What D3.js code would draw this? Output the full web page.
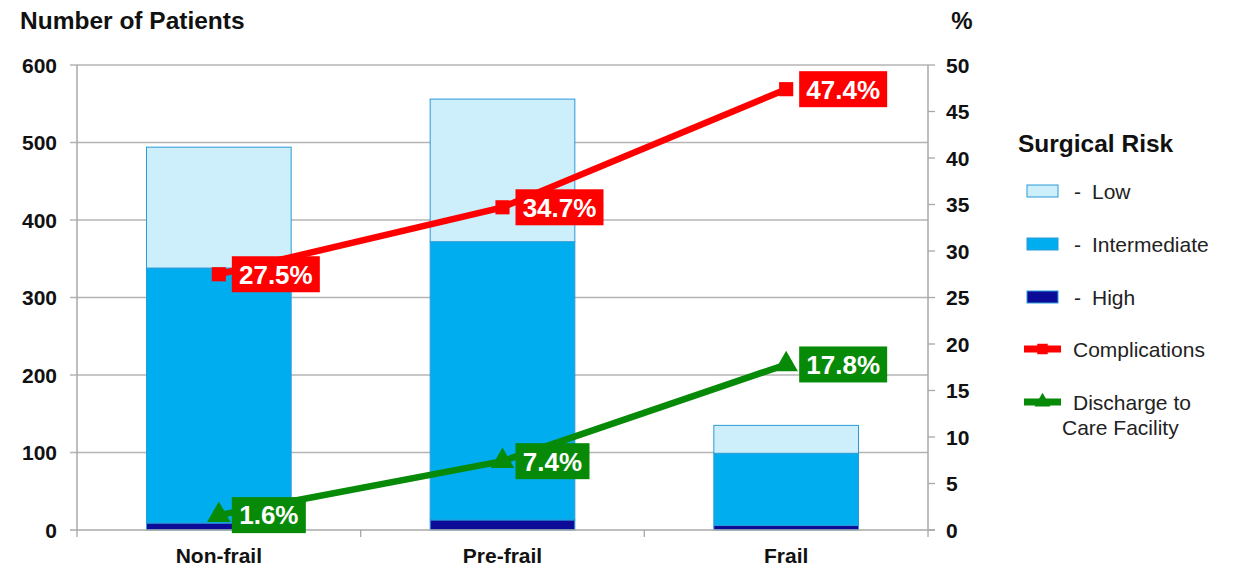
<!DOCTYPE html>
<html>
<head>
<meta charset="utf-8">
<script src="https://cdn.jsdelivr.net/npm/d3@7"></script>
<style>
  body { margin: 0; background: #fff; }
  text { font-family: "Liberation Sans", Arial, sans-serif; }
</style>
</head>
<body>
<div id="chart"></div>
<script>
// data
const categories = ['Non-frail', 'Pre-frail', 'Frail'];
const highRisk = [9, 13, 6];
const intermediateRisk = [329, 359, 93];
const lowRisk = [156, 184, 36];
const complications = [27.5, 34.7, 47.4];
const discharge = [1.6, 7.4, 17.8];
const leftTicks = [0, 100, 200, 300, 400, 500, 600];
const rightTicks = [0, 5, 10, 15, 20, 25, 30, 35, 40, 45, 50];

const W = 1243, H = 569;
const margin = {top: 65, right: 315, bottom: 39, left: 77};
const width = W - margin.left - margin.right;
const height = H - margin.top - margin.bottom;

const svg = d3.select('#chart').append('svg')
  .attr('width', W)
  .attr('height', H);

const g = svg.append('g')
  .attr('transform', 'translate(' + margin.left + ',' + margin.top + ')');

const x = d3.scaleBand().domain(categories).range([0, width]).paddingInner(0.49).paddingOuter(0.245);
const xc = d3.scalePoint().domain(categories).range([0, width]).padding(0.5);
const y = d3.scaleLinear().domain([0, 600]).range([height, 0]);
const y2 = d3.scaleLinear().domain([0, 50]).range([height, 0]);

// gridlines
g.append('g').selectAll('line')
  .data(leftTicks.slice(1))
  .enter().append('line')
  .attr('x1', -7).attr('x2', width)
  .attr('y1', d => y(d)).attr('y2', d => y(d))
  .attr('stroke', '#b4b4b4').attr('stroke-width', 1.3);

// stacked bars
const rows = categories.map((c, i) => ({cat: c, high: highRisk[i], inter: intermediateRisk[i], low: lowRisk[i]}));
const stack = d3.stack().keys(['high', 'inter', 'low'])(rows);
const fills = {high: '#0c0c98', inter: '#00aeef', low: '#cdeffb'};

g.append('g').selectAll('g')
  .data(stack)
  .enter().append('g')
  .attr('fill', d => fills[d.key])
  .selectAll('rect')
  .data(d => d)
  .enter().append('rect')
  .attr('x', d => x(d.data.cat))
  .attr('width', x.bandwidth())
  .attr('y', d => y(d[1]))
  .attr('height', d => y(d[0]) - y(d[1]))
  .attr('stroke', '#2a9ad8')
  .attr('stroke-width', 1);

// axes
const axisColor = '#a8a8a8';
g.append('line').attr('x1', 0).attr('x2', 0).attr('y1', 0).attr('y2', height)
  .attr('stroke', axisColor).attr('stroke-width', 1.5);
g.append('line').attr('x1', width).attr('x2', width).attr('y1', 0).attr('y2', height)
  .attr('stroke', axisColor).attr('stroke-width', 1.5);
g.append('line').attr('x1', -7).attr('x2', width + 7).attr('y1', height).attr('y2', height)
  .attr('stroke', axisColor).attr('stroke-width', 1.5);

// right axis ticks
g.append('g').selectAll('line')
  .data(rightTicks)
  .enter().append('line')
  .attr('x1', width).attr('x2', width + 7)
  .attr('y1', d => y2(d)).attr('y2', d => y2(d))
  .attr('stroke', axisColor).attr('stroke-width', 1.3);

// category separators
g.append('g').selectAll('line')
  .data([0, 1, 2, 3])
  .enter().append('line')
  .attr('x1', i => i * width / 3).attr('x2', i => i * width / 3)
  .attr('y1', height).attr('y2', height + 7)
  .attr('stroke', axisColor).attr('stroke-width', 1.3);

// tick labels
g.append('g').selectAll('text')
  .data(leftTicks)
  .enter().append('text')
  .attr('x', -20).attr('y', d => y(d))
  .attr('dy', '0.36em')
  .attr('text-anchor', 'end')
  .attr('font-size', 21).attr('font-weight', 'bold').attr('fill', '#111')
  .text(d => d);

g.append('g').selectAll('text')
  .data(rightTicks)
  .enter().append('text')
  .attr('x', width + 18).attr('y', d => y2(d))
  .attr('dy', '0.36em')
  .attr('font-size', 21).attr('font-weight', 'bold').attr('fill', '#111')
  .text(d => d);

g.append('g').selectAll('text')
  .data(categories)
  .enter().append('text')
  .attr('x', d => xc(d)).attr('y', height + 33)
  .attr('text-anchor', 'middle')
  .attr('font-size', 21).attr('font-weight', 'bold').attr('fill', '#111')
  .text(d => d);

svg.append('text').attr('x', 20).attr('y', 29)
  .attr('font-size', 24.5).attr('font-weight', 'bold').attr('fill', '#111')
  .text('Number of Patients');
svg.append('text').attr('x', 962).attr('y', 29)
  .attr('text-anchor', 'middle')
  .attr('font-size', 24).attr('font-weight', 'bold').attr('fill', '#111')
  .text('%');

// lines
const red = '#ff0000', green = '#078a07';
const line = d3.line().x((d, i) => xc(categories[i])).y(d => y2(d));

function drawSeries (values, color, marker) {
  g.append('path')
    .attr('d', line(values))
    .attr('fill', 'none')
    .attr('stroke', color)
    .attr('stroke-width', 6.5);

  const sym = marker === 'square' ? d3.symbolSquare : d3.symbolTriangle;
  g.append('g').selectAll('path')
    .data(values)
    .enter().append('path')
    .attr('transform', (d, i) => 'translate(' + xc(categories[i]) + ',' + y2(d) + ')')
    .attr('d', d3.symbol().type(sym).size(marker === 'square' ? 200 : 240))
    .attr('fill', color);

  const labels = g.append('g').selectAll('g')
    .data(values)
    .enter().append('g')
    .attr('transform', (d, i) => 'translate(' + (xc(categories[i]) + 13) + ',' + y2(d) + ')');
  labels.append('rect')
    .attr('x', 0).attr('y', -18)
    .attr('width', d => d < 10 ? 74 : 88)
    .attr('height', 36)
    .attr('fill', color);
  labels.append('text')
    .attr('x', d => d < 10 ? 37 : 44).attr('y', 0)
    .attr('dy', '0.36em')
    .attr('text-anchor', 'middle')
    .attr('font-size', 26).attr('font-weight', 'bold').attr('fill', '#fff')
    .text(d => d.toFixed(1) + '%');
}

drawSeries(complications, red, 'square');
drawSeries(discharge, green, 'triangle');

// legend
const legend = svg.append('g');
legend.append('text').attr('x', 1018).attr('y', 152)
  .attr('font-size', 24.5).attr('font-weight', 'bold').attr('fill', '#111')
  .text('Surgical Risk');

const boxItems = [
  {label: 'Low', fill: fills.low, y: 191},
  {label: 'Intermediate', fill: fills.inter, y: 244},
  {label: 'High', fill: fills.high, y: 297}
];
boxItems.forEach(d => {
  legend.append('rect')
    .attr('x', 1027).attr('y', d.y - 6).attr('width', 31).attr('height', 12)
    .attr('fill', d.fill).attr('stroke', '#2a9ad8').attr('stroke-width', 1);
  legend.append('text').attr('x', 1074).attr('y', d.y)
    .attr('dy', '0.36em').attr('font-size', 21).attr('fill', '#222')
    .text('-');
  legend.append('text').attr('x', 1092).attr('y', d.y)
    .attr('dy', '0.36em').attr('font-size', 21).attr('fill', '#222')
    .text(d.label);
});

const lineItems = [
  {label: ['Complications'], color: red, type: d3.symbolSquare, y: 349},
  {label: ['Discharge to', 'Care Facility'], color: green, type: d3.symbolTriangle, y: 402}
];
lineItems.forEach(d => {
  legend.append('line')
    .attr('x1', 1024).attr('x2', 1061).attr('y1', d.y).attr('y2', d.y)
    .attr('stroke', d.color).attr('stroke-width', 7);
  legend.append('path')
    .attr('transform', 'translate(1042.5,' + d.y + ')')
    .attr('d', d3.symbol().type(d.type).size(110))
    .attr('fill', d.color);
  d.label.forEach((t, k) => {
    legend.append('text')
      .attr('x', k === 0 ? 1073 : 1062).attr('y', d.y + k * 25)
      .attr('dy', '0.36em').attr('font-size', 21).attr('fill', '#222')
      .text(t);
  });
});
</script>
</body>
</html>
